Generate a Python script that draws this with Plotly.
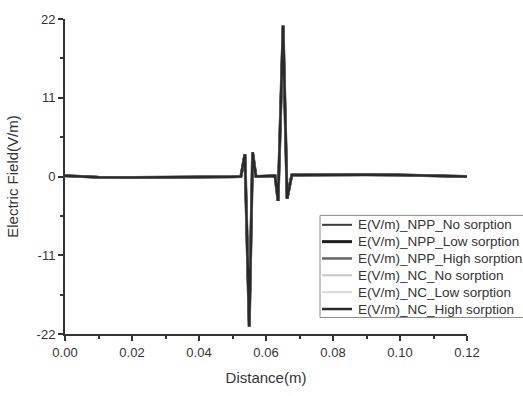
import plotly.graph_objects as go

distance = [0.0, 0.005, 0.01, 0.02, 0.03, 0.04, 0.05, 0.0525, 0.0537, 0.055, 0.056, 0.057,
            0.062, 0.0627, 0.0636, 0.0651, 0.0663, 0.0677, 0.07, 0.08, 0.09, 0.10, 0.11, 0.12]

npp_no = [0.1, 0.0, -0.1, -0.15, -0.15, -0.1, -0.05, 0.0, 3.1, -21.0, 3.4, 0.0,
          0.1, 0.1, -3.4, 21.1, -3.1, 0.2, 0.2, 0.25, 0.25, 0.2, 0.15, 0.0]
npp_low = list(npp_no)
npp_high = list(npp_no)
nc_no = list(npp_no)
nc_low = list(npp_no)
nc_high = list(npp_no)

names = ["E(V/m)_NPP_No sorption", "E(V/m)_NPP_Low sorption", "E(V/m)_NPP_High sorption",
         "E(V/m)_NC_No sorption", "E(V/m)_NC_Low sorption", "E(V/m)_NC_High sorption"]
series = [npp_no, npp_low, npp_high, nc_no, nc_low, nc_high]
colors = ["#3a3a3a", "#1e1e1e", "#666666", "#c8c8c8", "#d8d8d8", "#2a2a2a"]
widths = [2, 3, 2.5, 2, 2, 2.5]

y_ticks = [-22, -11, 0, 11, 22]
y_ticktext = ["-22", "-11", "0", "11", "22"]
x_ticks = [0, 0.02, 0.04, 0.06, 0.08, 0.10, 0.12]

W, H = 523, 396
ML, MR, MT, MB = 65, 56, 15, 57
PW, PH = W - ML - MR, H - MT - MB


def px2paper(px, py):
    return (px - ML) / PW, (H - MB - py) / PH


fig = go.Figure()
for n, s, c, w in zip(names, series, colors, widths):
    fig.add_trace(go.Scatter(x=distance, y=s, mode="lines", name=n,
                             line=dict(color=c, width=w), showlegend=False))

# legend box drawn manually (it reaches the right edge in the reference)
shapes = []
annotations = []
bx0, by0 = px2paper(320, 217)
bx1, by1 = px2paper(535, 322)
shapes.append(dict(type="rect", xref="paper", yref="paper", x0=bx0, x1=bx1, y0=by1, y1=by0,
                   line=dict(color="#8a8a8a", width=1), fillcolor="white", layer="above"))
entry_y = [226.7, 244, 261.3, 278.6, 296, 313.3]
for n, c, w, ey in zip(names, colors, widths, entry_y):
    lx0, ly = px2paper(322, ey)
    lx1, _ = px2paper(352, ey)
    shapes.append(dict(type="line", xref="paper", yref="paper", x0=lx0, x1=lx1, y0=ly, y1=ly,
                       line=dict(color=c, width=w), layer="above"))
    tx, _ = px2paper(356, ey)
    annotations.append(dict(text=n, xref="paper", yref="paper", x=tx, y=ly,
                            xanchor="left", yanchor="middle", showarrow=False,
                            font=dict(size=13.5, color="#333333")))

font_family = "Liberation Sans, Arial, sans-serif"
fig.update_layout(
    width=W, height=H,
    margin=dict(l=ML, r=MR, t=MT, b=MB),
    paper_bgcolor="white", plot_bgcolor="white",
    font=dict(family=font_family, size=12, color="#333333"),
    showlegend=False,
    shapes=shapes, annotations=annotations,
    xaxis=dict(range=[0, 0.12], tickvals=x_ticks,
               tickformat=".2f", ticks="outside", ticklen=5, tickwidth=1.5,
               tickcolor="#333333", showline=True, linecolor="#333333", linewidth=2,
               showgrid=False, zeroline=False,
               minor=dict(tickvals=[0.01, 0.03, 0.05, 0.07, 0.09, 0.11], ticks="outside",
                          ticklen=3, tickcolor="#333333", showgrid=False),
               title=dict(text="Distance(m)", font=dict(size=15, color="#333333"), standoff=14),
               tickfont=dict(size=13, color="#333333")),
    yaxis=dict(range=[-22, 22], tickvals=y_ticks, ticktext=y_ticktext,
               ticks="outside", ticklen=5, tickwidth=1.5,
               tickcolor="#333333", showline=True, linecolor="#333333", linewidth=2,
               showgrid=False, zeroline=False,
               minor=dict(tickvals=[-16.5, -5.5, 5.5, 16.5], ticks="outside",
                          ticklen=3, tickcolor="#333333", showgrid=False),
               title=dict(text="Electric Field(V/m)", font=dict(size=15, color="#333333"), standoff=14),
               tickfont=dict(size=13, color="#333333")),
)

fig.write_html("out.html")
